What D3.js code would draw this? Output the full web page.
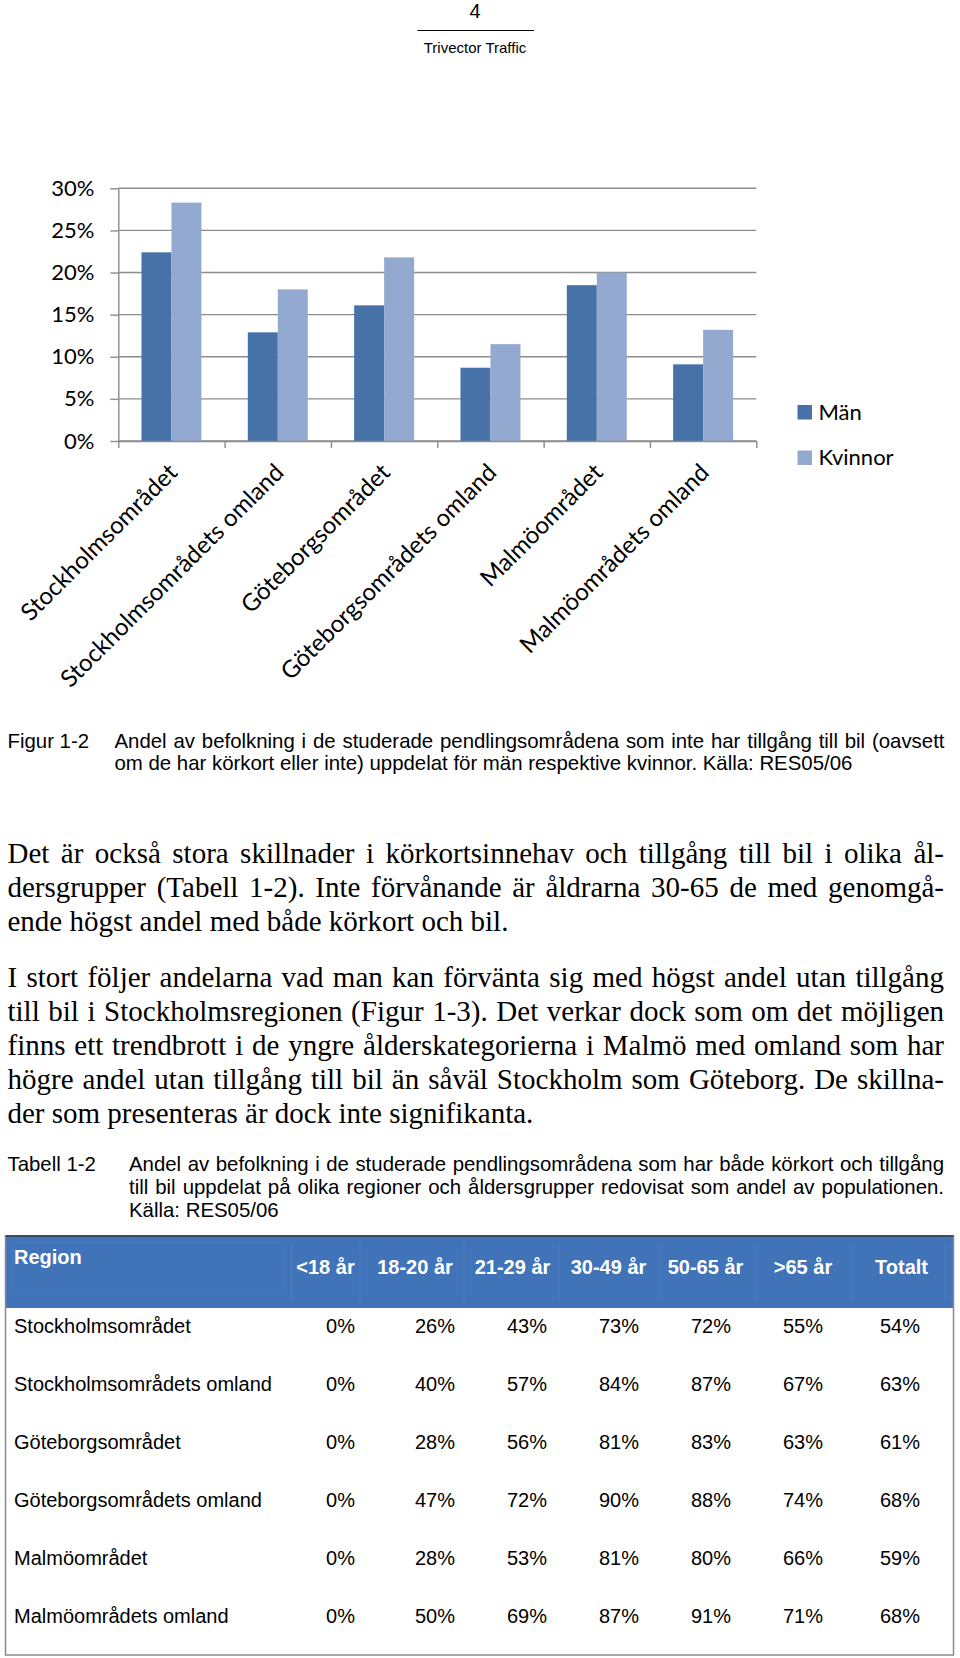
<!DOCTYPE html>
<html>
<head>
<meta charset="utf-8">
<script src="https://cdn.jsdelivr.net/npm/d3@7"></script>
<style>
  html, body { margin: 0; padding: 0; background: #fff; }
  svg { display: block; }
</style>
</head>
<body>
<div id="page"></div>
<script>
// ---------- DATA ----------
const categories = [
  "Stockholmsområdet",
  "Stockholmsområdets omland",
  "Göteborgsområdet",
  "Göteborgsområdets omland",
  "Malmöområdet",
  "Malmöområdets omland"
];
const seriesNames = ["Män", "Kvinnor"];
const manValues = [22.4, 12.9, 16.1, 8.7, 18.5, 9.1];
const kvinnorValues = [28.3, 18.0, 21.8, 11.5, 20.0, 13.2];
const yTickValues = [0, 5, 10, 15, 20, 25, 30];

const pageNumber = "4";
const headerText = "Trivector Traffic";

const figLabel = "Figur 1-2";
const figCaption = [
  "Andel av befolkning i de studerade pendlingsområdena som inte har tillgång till bil (oavsett",
  "om de har körkort eller inte) uppdelat för män respektive kvinnor. Källa: RES05/06"
];
const paragraph1 = [
  "Det är också stora skillnader i körkortsinnehav och tillgång till bil i olika ål-",
  "dersgrupper (Tabell 1-2). Inte förvånande är åldrarna 30-65 de med genomgå-",
  "ende högst andel med både körkort och bil."
];
const paragraph2 = [
  "I stort följer andelarna vad man kan förvänta sig med högst andel utan tillgång",
  "till bil i Stockholmsregionen (Figur 1-3). Det verkar dock som om det möjligen",
  "finns ett trendbrott i de yngre ålderskategorierna i Malmö med omland som har",
  "högre andel utan tillgång till bil än såväl Stockholm som Göteborg. De skillna-",
  "der som presenteras är dock inte signifikanta."
];
const tabLabel = "Tabell 1-2";
const tabCaption = [
  "Andel av befolkning i de studerade pendlingsområdena som har både körkort och tillgång",
  "till bil uppdelat på olika regioner och åldersgrupper redovisat som andel av populationen.",
  "Källa: RES05/06"
];
const tableRegionHeader = "Region";
const tableColumns = ["<18 år", "18-20 år", "21-29 år", "30-49 år", "50-65 år", ">65 år", "Totalt"];
const tableRegions = [
  "Stockholmsområdet",
  "Stockholmsområdets omland",
  "Göteborgsområdet",
  "Göteborgsområdets omland",
  "Malmöområdet",
  "Malmöområdets omland"
];
const tableValues = [
  [0, 26, 43, 73, 72, 55, 54],
  [0, 40, 57, 84, 87, 67, 63],
  [0, 28, 56, 81, 83, 63, 61],
  [0, 47, 72, 90, 88, 74, 68],
  [0, 28, 53, 81, 80, 66, 59],
  [0, 50, 69, 87, 91, 71, 68]
];

// ---------- LAYOUT ----------
const W = 960, H = 1658;
const SANS = "'Liberation Sans', Arial, Helvetica, sans-serif";
const SERIF = "'Liberation Serif', 'Times New Roman', serif";
const CHART_FONT = "Lato, 'Open Sans', sans-serif";
const colors = { "Män": "#4672A8", "Kvinnor": "#93A9D0" };
const gridColor = "#8c8c8c";

const svg = d3.select("#page").append("svg")
  .attr("width", W).attr("height", H)
  .attr("viewBox", `0 0 ${W} ${H}`);
svg.append("rect").attr("width", W).attr("height", H).attr("fill", "#fff");

// ---------- PAGE HEADER ----------
svg.append("text").attr("x", 475).attr("y", 18)
  .attr("text-anchor", "middle").attr("font-family", SANS).attr("font-size", 20)
  .text(pageNumber);
svg.append("line").attr("x1", 417.5).attr("x2", 534).attr("y1", 30.5).attr("y2", 30.5)
  .attr("stroke", "#000").attr("stroke-width", 1);
svg.append("text").attr("x", 475).attr("y", 53)
  .attr("text-anchor", "middle").attr("font-family", SANS).attr("font-size", 15)
  .text(headerText);

// ---------- CHART ----------
const plotLeft = 118.3, plotRight = 756.3, plotTop = 188.3, plotBottom = 441;
const x0 = d3.scaleBand().domain(categories).range([plotLeft, plotRight])
  .paddingInner(0.436).paddingOuter(0.218);
const x1 = d3.scaleBand().domain(seriesNames).range([0, x0.bandwidth()]);
const y = d3.scaleLinear().domain([0, 30]).range([plotBottom, plotTop]);
const xb = d3.scaleLinear().domain([0, categories.length]).range([plotLeft, plotRight]);

const chart = svg.append("g");

// gridlines
chart.append("g").selectAll("line").data(yTickValues).join("line")
  .attr("x1", plotLeft).attr("x2", plotRight)
  .attr("y1", d => y(d)).attr("y2", d => y(d))
  .attr("stroke", gridColor).attr("stroke-width", 1.4);

// bars
const series = [
  { name: "Män", values: manValues },
  { name: "Kvinnor", values: kvinnorValues }
];
const barG = chart.append("g");
series.forEach(s => {
  barG.append("g").selectAll("rect").data(categories).join("rect")
    .attr("x", (c) => x0(c) + x1(s.name))
    .attr("width", x1.bandwidth())
    .attr("y", (c, i) => y(s.values[i]))
    .attr("height", (c, i) => y(0) - y(s.values[i]))
    .attr("fill", colors[s.name]);
});

// y axis
const yAxis = chart.append("g").attr("transform", `translate(${plotLeft},0)`)
  .call(d3.axisLeft(y).tickValues(yTickValues).tickSize(8).tickSizeOuter(0).tickPadding(16)
    .tickFormat(d => d + "%"));
yAxis.select(".domain").attr("stroke", gridColor).attr("stroke-width", 1.4);
yAxis.selectAll(".tick line").attr("stroke", gridColor).attr("stroke-width", 1.4);
yAxis.selectAll(".tick text").attr("font-family", CHART_FONT).attr("font-size", 22)
  .attr("fill", "#000");

// x axis (ticks at category boundaries)
const xAxis = chart.append("g").attr("transform", `translate(0,${plotBottom})`)
  .call(d3.axisBottom(xb).tickValues(d3.range(categories.length + 1)).tickSize(7)
    .tickSizeOuter(0).tickFormat(""));
xAxis.select(".domain").attr("stroke", gridColor).attr("stroke-width", 1.4);
xAxis.selectAll(".tick line").attr("stroke", gridColor).attr("stroke-width", 1.4);

// rotated category labels
chart.append("g").selectAll("text").data(categories).join("text")
  .attr("transform", c => `translate(${x0(c) + x0.bandwidth() / 2 + 7.5},${474}) rotate(-45)`)
  .attr("text-anchor", "end")
  .attr("font-family", CHART_FONT).attr("font-size", 24)
  .text(c => c);

// legend
const legend = chart.append("g").selectAll("g").data(seriesNames).join("g")
  .attr("transform", (d, i) => `translate(797.5,${405 + i * 45.5})`);
legend.append("rect").attr("width", 14.5).attr("height", 14.5).attr("fill", d => colors[d]);
legend.append("text").attr("x", 21).attr("y", 14.5)
  .attr("font-family", CHART_FONT).attr("font-size", 22).text(d => d);

// ---------- TEXT HELPERS ----------
function textLine(g, str, x, yy, opts) {
  const t = g.append("text").attr("x", x).attr("y", yy)
    .attr("font-family", opts.family).attr("font-size", opts.size)
    .attr("fill", "#000").text(str);
  if (opts.width) {
    const nat = t.node().getComputedTextLength();
    const spaces = (str.match(/ /g) || []).length;
    if (spaces > 0 && nat < opts.width) {
      t.style("word-spacing", ((opts.width - nat) / spaces) + "px");
    } else if (nat > opts.width) {
      t.attr("textLength", opts.width).attr("lengthAdjust", "spacingAndGlyphs");
    }
  }
  return t;
}

// figure caption
const CAP_SIZE = 20.4;
const cap = svg.append("g");
textLine(cap, figLabel, 7.5, 748, { family: SANS, size: CAP_SIZE });
figCaption.forEach((s, i) => {
  textLine(cap, s, 114.5, 748 + i * 22, { family: SANS, size: CAP_SIZE, width: i === 0 ? 830 : null });
});

// paragraphs
const body = svg.append("g");
paragraph1.forEach((s, i) => {
  textLine(body, s, 7.5, 863 + i * 34, { family: SERIF, size: 29, width: i < paragraph1.length - 1 ? 936.5 : null });
});
paragraph2.forEach((s, i) => {
  textLine(body, s, 7.5, 987 + i * 34, { family: SERIF, size: 29, width: i < paragraph2.length - 1 ? 936.5 : null });
});

// table caption
const tcap = svg.append("g");
textLine(tcap, tabLabel, 7.5, 1171, { family: SANS, size: CAP_SIZE });
tabCaption.forEach((s, i) => {
  textLine(tcap, s, 129, 1171 + i * 23, { family: SANS, size: CAP_SIZE, width: i < 2 ? 815 : null });
});

// ---------- TABLE ----------
const tLeft = 5.5, tRight = 953.5, tTop = 1236, tHeadBottom = 1308, tBottom = 1655;
const table = svg.append("g");
table.append("rect").attr("x", tLeft).attr("y", tTop).attr("width", tRight - tLeft)
  .attr("height", tHeadBottom - tTop).attr("fill", "#4173B9");
// subtle header cell outlines
table.append("rect").attr("x", 13).attr("y", 1243).attr("width", 270).attr("height", 47)
  .attr("fill", "none").attr("stroke", "#4c7dc0").attr("stroke-width", 1);
const headSeparators = [291.5, 360, 464, 559, 660, 757, 851, 945];
table.append("g").selectAll("line").data(headSeparators).join("line")
  .attr("x1", d => d).attr("x2", d => d).attr("y1", 1243).attr("y2", 1300)
  .attr("stroke", "#4c7dc0").attr("stroke-width", 1);
// outer border
table.append("rect").attr("x", tLeft).attr("y", tTop).attr("width", tRight - tLeft)
  .attr("height", tBottom - tTop).attr("fill", "none").attr("stroke", "#8a8a8a").attr("stroke-width", 1.5);
table.append("line").attr("x1", tLeft).attr("x2", tRight).attr("y1", tTop).attr("y2", tTop)
  .attr("stroke", "#23344f").attr("stroke-width", 1.5);

// header texts
table.append("text").attr("x", 14).attr("y", 1263.5)
  .attr("font-family", SANS).attr("font-size", 20).attr("font-weight", "bold")
  .attr("fill", "#fff").text(tableRegionHeader);
const colCenters = d3.scaleOrdinal().domain(tableColumns)
  .range([325.5, 415, 512.5, 608.5, 705.5, 803, 901.5]);
const colRight = d3.scaleOrdinal().domain(d3.range(tableColumns.length))
  .range([355, 455, 547, 639, 731, 823, 920]);
table.append("g").selectAll("text").data(tableColumns).join("text")
  .attr("x", d => colCenters(d)).attr("y", 1273.5).attr("text-anchor", "middle")
  .attr("font-family", SANS).attr("font-size", 20).attr("font-weight", "bold")
  .attr("fill", "#fff").text(d => d);

// rows
const rowY = d3.scaleLinear().domain([0, 1]).range([1333.3, 1391.2]);
const rows = table.append("g").selectAll("g").data(tableRegions).join("g")
  .attr("transform", (d, i) => `translate(0,${rowY(i)})`);
rows.append("text").attr("x", 14).attr("y", 0)
  .attr("font-family", SANS).attr("font-size", 20).attr("fill", "#000").text(d => d);
rows.each(function (d, i) {
  d3.select(this).selectAll("text.v").data(tableValues[i]).join("text").attr("class", "v")
    .attr("x", (v, j) => colRight(j)).attr("y", 0).attr("text-anchor", "end")
    .attr("font-family", SANS).attr("font-size", 20).attr("fill", "#000")
    .text(v => v + "%");
});
</script>
</body>
</html>
